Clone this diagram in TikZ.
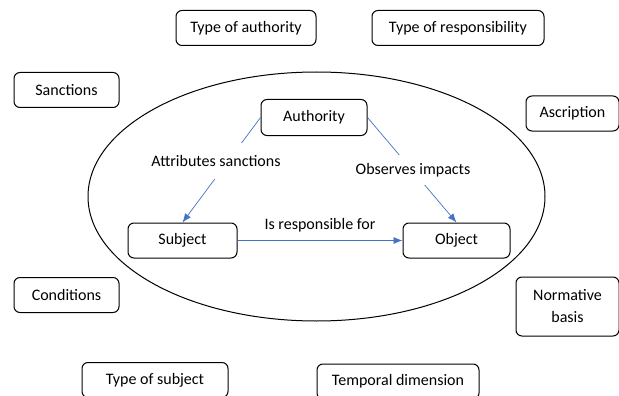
\documentclass[tikz,border=0pt]{standalone}
\usepackage{fontspec}
\setmainfont{Carlito}
\usetikzlibrary{positioning, arrows.meta}

\definecolor{linkblue}{HTML}{4472C4}

\begin{document}
\begin{tikzpicture}[
  x=1pt, y=-1pt,
  box/.style={
    draw=black,
    line width=1pt,
    rounded corners=6pt,
    minimum height=35pt,
    align=center,
    font=\fontsize{16}{22}\selectfont
  },
  arrow/.style={
    -{Latex[length=9pt, width=7pt]},
    draw=linkblue,
    line width=0.7pt
  },
  linklabel/.style={
    fill=white,
    inner xsep=2pt,
    inner ysep=8pt,
    font=\fontsize{16}{18}\selectfont
  }
]

\useasboundingbox (0,0) rectangle (619,396);
\clip (0,0) rectangle (619,396);

\draw[line width=1pt] (316.5,196.5) ellipse (228.5pt and 124.5pt);

\node[box, minimum width=140pt] (typeauth)   at (246,28)      {Type of authority};
\node[box, minimum width=172pt] (typeresp)   at (458,28)      {Type of responsibility};
\node[box, minimum width=105pt] (sanctions)  at (66.5,90)     {Sanctions};
\node[box, minimum width=93pt]  (ascription) at (572.5,113.5) {Ascription};
\node[box, minimum width=106pt, minimum height=36pt] (authority) at (314,117.5) {Authority};
\node[box, minimum width=109pt] (subject)    at (182.5,240.5) {Subject};
\node[box, minimum width=107pt] (object)     at (456.5,240.5) {Object};
\node[box, minimum width=105pt] (conditions) at (66.5,295)    {Conditions};
\node[box, minimum width=103pt, minimum height=59pt] (normative) at (567.5,306.5) {Normative\\basis};
\node[box, minimum width=146pt] (typesubj)   at (155,380)     {Type of subject};
\node[box, minimum width=162pt] (temporal)   at (398,381.5)   {Temporal dimension};

\draw[arrow] (authority.west) -- (subject.north);
\draw[arrow] (authority.east) -- (object.north);
\draw[arrow] (subject.east) -- node[linklabel, above=5pt, fill=none, inner ysep=3pt] (resp) {Is responsible for} (object.west);

\node[linklabel, inner ysep=12pt] (attrib)  at (216,161) {Attributes sanctions};
\node[linklabel] (observes) at (413,170) {Observes impacts};

\end{tikzpicture}
\end{document}
